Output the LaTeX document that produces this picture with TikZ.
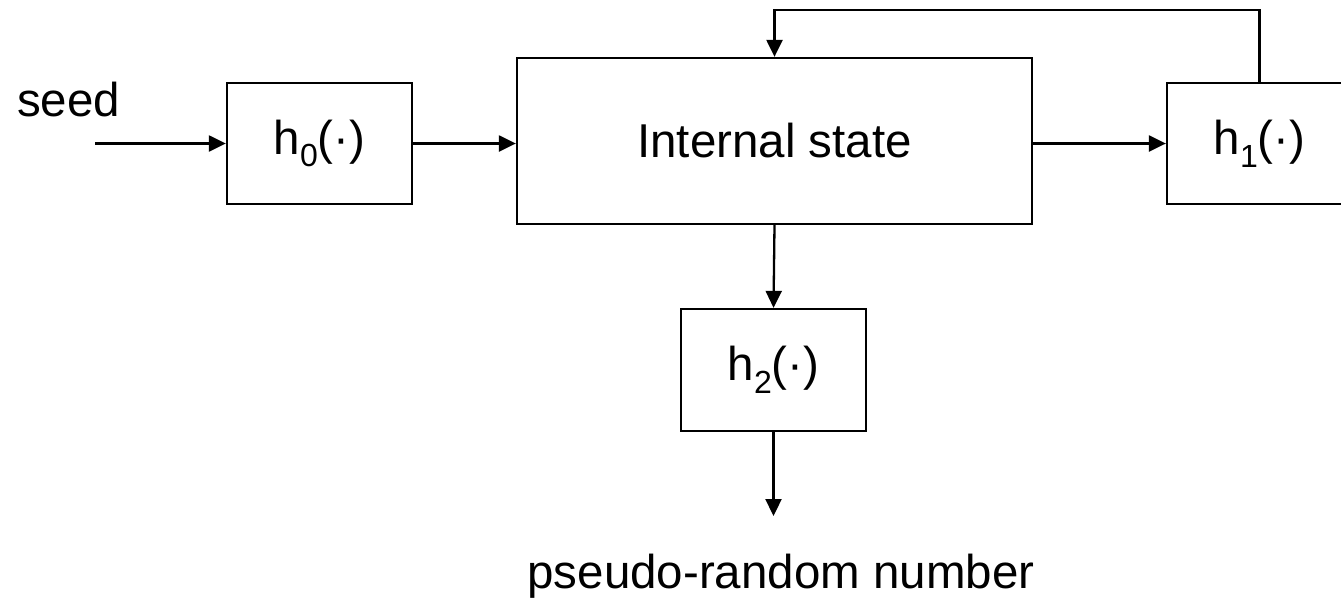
\documentclass[tikz,border=0pt]{standalone}
\usepackage{fontspec}
\setmainfont{Liberation Sans}
\usetikzlibrary{arrows.meta}
\newcommand{\hfun}[1]{h\raisebox{-0.27em}{\fontsize{32}{32}\selectfont #1}(·)}
\begin{document}
\begin{tikzpicture}[x=1pt,y=-1pt,
  blk/.style={draw, line width=2.3pt, rectangle, inner sep=0pt, font=\fontsize{47.5}{56}\selectfont},
  lbl/.style={inner sep=0pt, font=\fontsize{47.5}{56}\selectfont},
  arr/.style={line width=2.3pt, -{Triangle[length=17pt,width=16pt]}}]
\useasboundingbox (0,0) rectangle (1341,600);
\clip (0,0) rectangle (1341,600);
\node[blk, minimum width=185pt, minimum height=121pt] (h0) at (319.5,143.5) {\hfun{0}};
\node[blk, minimum width=515pt, minimum height=166pt] (is) at (774.5,141) {Internal state};
\node[blk, minimum width=185pt, minimum height=121pt] (h1) at (1259.5,143.5) {\hfun{1}};
\node[blk, minimum width=185pt, minimum height=122pt] (h2) at (773.5,370) {\hfun{2}};
\node[lbl, anchor=base west] (seed) at (17,116) {seed};
\node[lbl, anchor=base] (prn) at (781,588) {pseudo-random number};
\coordinate (in) at (95,143.5);
\coordinate (top) at (1000,10);
\coordinate (out) at (773.5,516);
\draw[arr] (in) -- (h0.west);
\draw[arr] (h0.east) -- (h0.east -| is.west);
\draw[arr] (h1.west -| is.east) -- (h1.west);
\draw[arr] (h1.north) |- (top) -| (is.north);
\draw[arr] (is.south) -- (h2.north);
\draw[arr] (h2.south) -- (out);
\end{tikzpicture}
\end{document}
